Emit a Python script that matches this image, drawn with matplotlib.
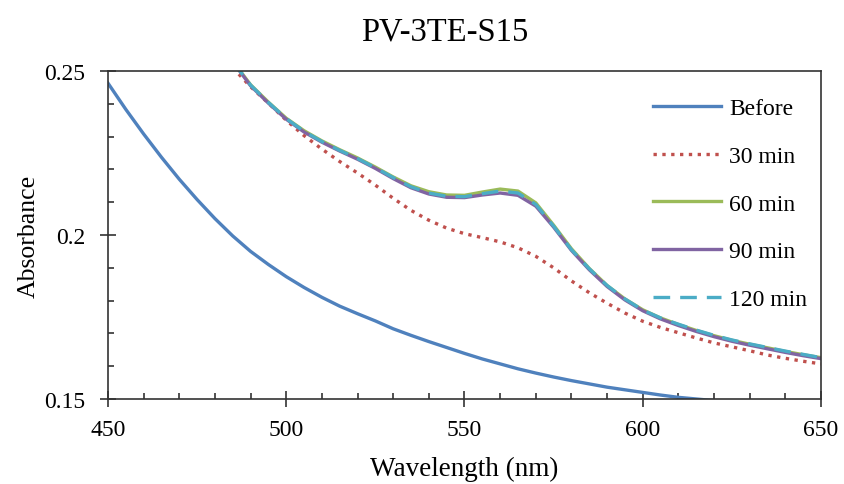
import numpy as np
import matplotlib
matplotlib.use("Agg")
import matplotlib.pyplot as plt
from matplotlib.ticker import MultipleLocator

plt.rcParams['font.family'] = ['Liberation Serif', 'DejaVu Serif']

# Before: 450-620 nm, every 5 nm
wl_before = np.arange(450, 621, 5)
before = [0.2463, 0.2383, 0.2308, 0.2237, 0.2170, 0.2108, 0.2050, 0.1997, 0.1950,
          0.1910, 0.1873, 0.1840, 0.1810, 0.1783, 0.1760, 0.1738, 0.1714, 0.1694,
          0.1675, 0.1657, 0.1639, 0.1622, 0.1607, 0.1592, 0.1579, 0.1567, 0.1556,
          0.1546, 0.1536, 0.1528, 0.1520, 0.1512, 0.1505, 0.1500, 0.1495]

# irradiated samples: 485-650 nm, every 5 nm
wl = np.arange(485, 651, 5)
min30 = [0.2510, 0.2452, 0.2402, 0.2350, 0.2303, 0.2262, 0.2224, 0.2189, 0.2152,
         0.2112, 0.2075, 0.2045, 0.2021, 0.2004, 0.1992, 0.1979, 0.1961, 0.1935,
         0.1900, 0.1860, 0.1824, 0.1792, 0.1762, 0.1737, 0.1718, 0.1702, 0.1686,
         0.1671, 0.1659, 0.1647, 0.1634, 0.1624, 0.1615, 0.1607]
min60 = [0.2530, 0.2458, 0.2405, 0.2356, 0.2318, 0.2287, 0.2260, 0.2235, 0.2207,
         0.2177, 0.2150, 0.2132, 0.2122, 0.2121, 0.2131, 0.2140, 0.2134, 0.2098,
         0.2030, 0.1958, 0.1898, 0.1846, 0.1805, 0.1772, 0.1747, 0.1727, 0.1709,
         0.1693, 0.1679, 0.1667, 0.1656, 0.1645, 0.1635, 0.1626]
min90 = [0.2528, 0.2455, 0.2402, 0.2353, 0.2314, 0.2283, 0.2256, 0.2231, 0.2203,
         0.2172, 0.2144, 0.2125, 0.2115, 0.2114, 0.2122, 0.2128, 0.2121, 0.2088,
         0.2024, 0.1953, 0.1894, 0.1843, 0.1802, 0.1769, 0.1744, 0.1724, 0.1706,
         0.1690, 0.1676, 0.1664, 0.1653, 0.1642, 0.1632, 0.1623]
min120 = [0.2529, 0.2457, 0.2404, 0.2355, 0.2316, 0.2285, 0.2258, 0.2233, 0.2205,
          0.2175, 0.2147, 0.2128, 0.2118, 0.2117, 0.2126, 0.2134, 0.2128, 0.2093,
          0.2027, 0.1955, 0.1897, 0.1846, 0.1805, 0.1771, 0.1747, 0.1728, 0.1710,
          0.1694, 0.1680, 0.1668, 0.1657, 0.1646, 0.1636, 0.1626]

fig = plt.figure(figsize=(8.45, 4.85), dpi=100)
ax = fig.add_axes([0.1278, 0.1753, 0.8438, 0.6762])

lw = 2.4
ax.plot(wl_before, before, color='#4F81BD', lw=lw, label='Before')
ax.plot(wl, min30, color='#C0504D', lw=lw, ls=':', label='30 min')
ax.plot(wl, min60, color='#9BBB59', lw=lw, label='60 min')
ax.plot(wl, min90, color='#8064A2', lw=lw, label='90 min')
ax.plot(wl, min120, color='#4BACC6', lw=lw, ls=(0, (5, 3)), label='120 min')

ax.set_xlim(450, 650)
ax.set_ylim(0.15, 0.25)
ax.xaxis.set_major_locator(MultipleLocator(50))
ax.xaxis.set_minor_locator(MultipleLocator(10))
ax.yaxis.set_minor_locator(MultipleLocator(0.01))
ax.set_yticks([0.15, 0.2, 0.25])
ax.set_yticklabels(['0.15', '0.2', '0.25'])

for s in ax.spines.values():
    s.set_color('#333333')
    s.set_linewidth(1.2)

ax.tick_params(which='major', direction='inout', length=11, width=1.2,
               color='#333333', labelsize=17)
ax.tick_params(axis='x', which='major', pad=9)
ax.tick_params(axis='y', which='major', pad=11)
ax.tick_params(which='minor', direction='in', length=4, width=1.2, color='#333333')

ax.set_xlabel('Wavelength (nm)', fontsize=19.5, labelpad=11)
ax.set_ylabel('Absorbance', fontsize=18.5, labelpad=3)
ax.set_title('PV-3TE-S15', fontsize=23.5, pad=23, x=0.4727)

ax.legend(loc='upper left', bbox_to_anchor=(0.764, 0.919), frameon=False,
          fontsize=17, borderpad=0, borderaxespad=0, handlelength=2.9,
          handletextpad=0.35, labelspacing=1.11)

fig.savefig('out.png', dpi=100)
